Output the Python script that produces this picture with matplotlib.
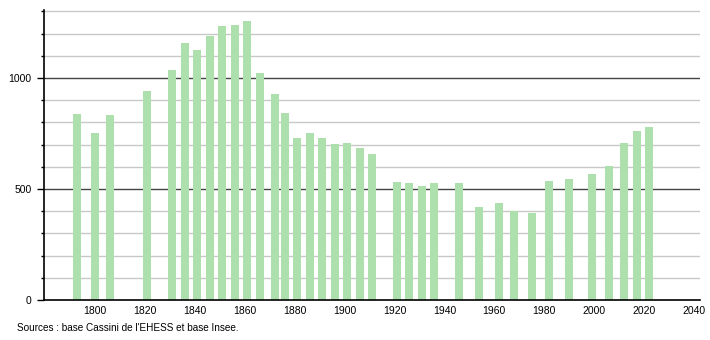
import matplotlib
matplotlib.use("Agg")
import matplotlib.pyplot as plt
from matplotlib.ticker import MultipleLocator

years = [1793, 1800, 1806, 1821, 1831, 1836, 1841, 1846, 1851, 1856, 1861, 1866,
         1872, 1876, 1881, 1886, 1891, 1896, 1901, 1906, 1911, 1921, 1926, 1931,
         1936, 1946, 1954, 1962, 1968, 1975, 1982, 1990, 1999, 2006, 2012, 2017, 2022]
population = [838, 752, 833, 941, 1036, 1158, 1126, 1189, 1234, 1239, 1257, 1023,
              928, 842, 731, 752, 728, 701, 706, 686, 658, 532, 525, 514,
              527, 525, 417, 435, 401, 393, 536, 543, 569, 603, 706, 761, 779]
xticks = [1800, 1820, 1840, 1860, 1880, 1900, 1920, 1940, 1960, 1980, 2000, 2020, 2040]
yticks = [0, 500, 1000]
source = "Sources : base Cassini de l'EHESS et base Insee."

plt.rcParams['font.family'] = ['Liberation Sans', 'DejaVu Sans']

fig = plt.figure(figsize=(7.1, 3.4), dpi=100)
ax = fig.add_axes([44/710, 40/340, 656/710, 290/340])

ax.bar(years, population, width=3.2, color='#ade0ad', zorder=3)

ax.set_xlim(1779.6, 2042.4)
ax.set_ylim(0, 1306)
ax.set_xticks(xticks)
ax.set_yticks(yticks)
ax.yaxis.set_minor_locator(MultipleLocator(100))

for v in range(100, 1301, 100):
    if v % 500 == 0:
        ax.axhline(v, color='#444444', lw=1.0, zorder=2)
    else:
        ax.axhline(v, color='#c8c8c8', lw=1.0, zorder=1)

for s in ['top', 'right']:
    ax.spines[s].set_visible(False)
ax.spines['left'].set_linewidth(1.2)
ax.spines['bottom'].set_linewidth(1.2)
ax.spines['left'].set_zorder(5)
ax.spines['bottom'].set_zorder(5)

ax.tick_params(axis='y', which='major', length=5, width=1, labelsize=7.5, pad=4)
ax.tick_params(axis='y', which='minor', length=2.5, width=1)
ax.tick_params(axis='x', which='major', length=0, labelsize=7.5, pad=4)

fig.text(17/710, 1 - 328/340, source, fontsize=7.2, va='center', ha='left')

fig.savefig('out.png', dpi=100)
